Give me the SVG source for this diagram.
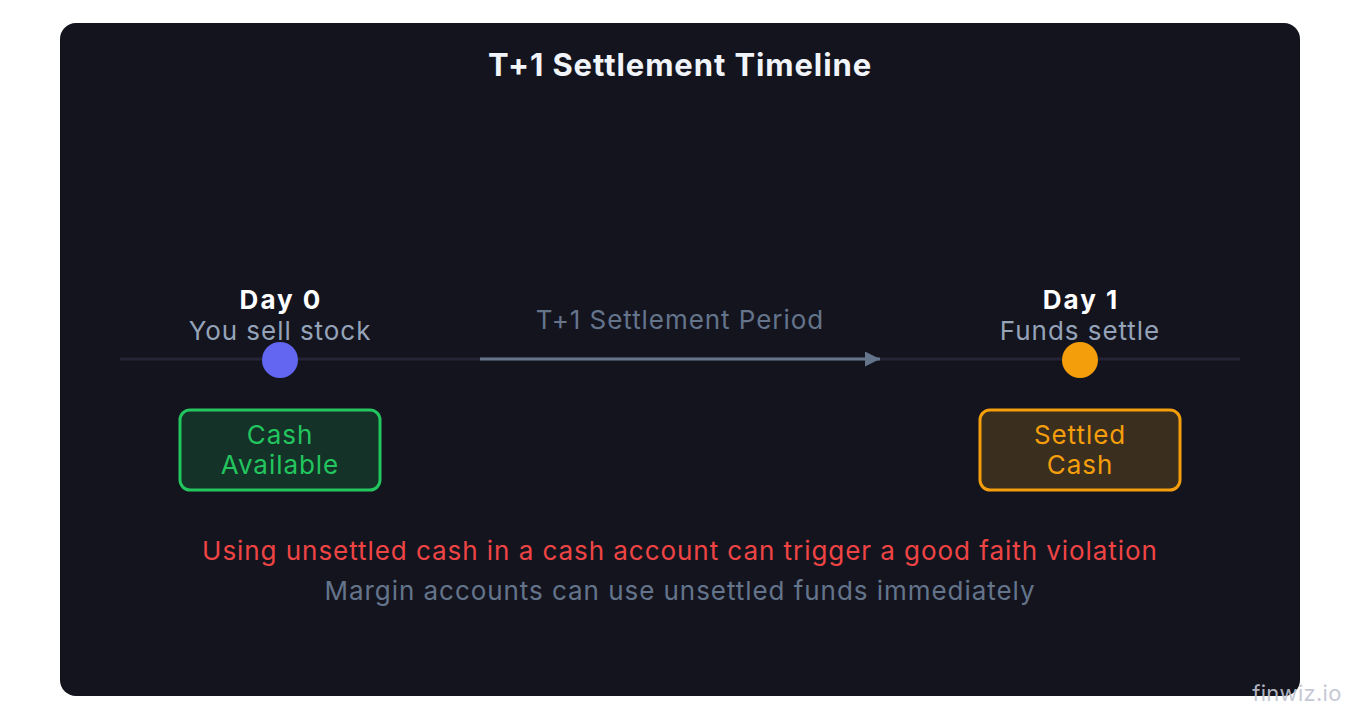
<svg xmlns="http://www.w3.org/2000/svg" width="1360" height="720" viewBox="0 0 1360 720">
<defs>
<style>
text{font-family:Inter,"Noto Sans",sans-serif;text-anchor:middle;letter-spacing:0.95px}
.day{font-size:26px;font-weight:700;fill:#ffffff;letter-spacing:2px}
.sub{font-size:26px;fill:#94a3b8}
.lbl{font-size:26px}
</style>
<marker id="ah" viewBox="0 0 10 10" refX="10" refY="5" markerWidth="5" markerHeight="5" orient="auto" markerUnits="strokeWidth">
<path d="M0,0 L10,5 L0,10 z" fill="#64748b"/>
</marker>
</defs>
<rect width="1360" height="720" fill="#ffffff"/>
<rect x="60" y="23" width="1240" height="673" rx="16" fill="#14141f"/>
<text x="680" y="76" style="font-size:31px;font-weight:700;fill:#f1f5f9;letter-spacing:0.9px">T+1 Settlement Timeline</text>
<g id="connectors">
<line x1="120" y1="359" x2="1240" y2="359" stroke="#252535" stroke-width="3"/>
<line x1="480" y1="359" x2="880" y2="359" stroke="#64748b" stroke-width="3" marker-end="url(#ah)"/>
<text x="680" y="329" class="sub" style="fill:#64748b">T+1 Settlement Period</text>
</g>
<g id="day0">
<text x="281" y="309" class="day">Day 0</text>
<text x="280" y="340" class="sub">You sell stock</text>
<circle cx="280" cy="360" r="18" fill="#6366f1"/>
</g>
<g id="day1">
<text x="1081" y="309" class="day">Day 1</text>
<text x="1080" y="340" class="sub">Funds settle</text>
<circle cx="1080" cy="360" r="18" fill="#f59e0b"/>
</g>
<g id="cash-available">
<rect x="180" y="410" width="200" height="80" rx="10" fill="#153228" stroke="#22c55e" stroke-width="3"/>
<text x="280" y="444" class="lbl" fill="#22c55e">Cash</text>
<text x="280" y="474" class="lbl" fill="#22c55e">Available</text>
</g>
<g id="settled-cash">
<rect x="980" y="410" width="200" height="80" rx="10" fill="#3a2e1f" stroke="#f59e0b" stroke-width="3"/>
<text x="1080" y="444" class="lbl" fill="#f59e0b">Settled</text>
<text x="1080" y="474" class="lbl" fill="#f59e0b">Cash</text>
</g>
<g id="notes">
<text x="680" y="560" class="lbl" fill="#ef4444">Using unsettled cash in a cash account can trigger a good faith violation</text>
<text x="680" y="600" class="lbl" fill="#64748b">Margin accounts can use unsettled funds immediately</text>
</g>
<text x="1297" y="701" style="font-size:22px;fill:#c0c4d0;opacity:0.9;letter-spacing:0.3px">finwiz.io</text>
</svg>
